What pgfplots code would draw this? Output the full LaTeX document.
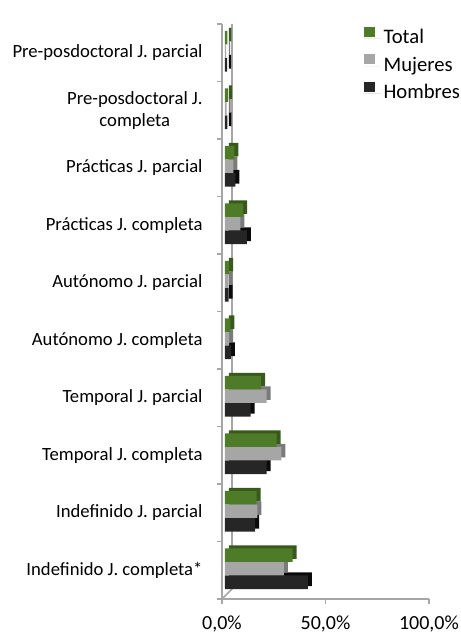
\documentclass[border=0pt]{standalone}
\usepackage{fontspec}
\setmainfont{Carlito}
\usepackage{pgfplots}
\pgfplotsset{compat=1.18}
\definecolor{cT}{HTML}{4E7B27}
\definecolor{cTd}{HTML}{38591C}
\definecolor{cM}{HTML}{A6A6A6}
\definecolor{cMd}{HTML}{7A7A7A}
\definecolor{cH}{HTML}{262626}
\definecolor{cHd}{HTML}{0A0A0A}
\definecolor{cAx}{HTML}{A6A6A6}
\newcommand\tl{\fontsize{15}{18}\selectfont}

% y = 0 is the bottom category
\pgfplotstableread{
y  hom  muj  tot
0  40.0 28.4 32.7
1  14.5 15.6 15.3
2  20.1 27.2 25.0
3  12.4 20.1 17.4
4  2.9  2.0  2.6
5  1.7  1.7  2.0
6  10.6 7.4  8.8
7  5.0  4.0  4.5
8  1.2  0.8  1.5
9  1.0  0.5  1.2
}\datatab

\begin{document}
\fontsize{14}{16.5}\selectfont
\begin{tikzpicture}
\path[use as bounding box] (-166.5pt,-28.5pt) rectangle (179.25pt,449.25pt);
\begin{axis}[
  at={(0,0)}, anchor=south west,
  scale only axis, width=155.25pt, height=431.25pt,
  xbar, bar width=10.2pt,
  xmin=0, xmax=100, ymin=-0.5, ymax=9.5,
  axis lines*=left,
  axis line style={cAx, line width=1.3pt},
  xtick={0,50,100},
  xticklabels={{\tl 0,0\%},{\tl 50,0\%},{\tl 100,0\%}},
  ytick={0,...,9},
  yticklabels={Indefinido J. completa*,Indefinido J. parcial,Temporal J. completa,Temporal J. parcial,Autónomo J. completa,Autónomo J. parcial,Prácticas J. completa,Prácticas J. parcial,{Pre-posdoctoral J.\\completa},Pre-posdoctoral J. parcial},
  minor ytick={-0.5,0.5,...,9.5},
  tick align=outside,
  major tick length=3.75pt, minor tick length=3.75pt,
  x tick style={cAx, line width=1pt},
  y tick style={draw=none},
  minor y tick style={draw=cAx, line width=1pt},
  x tick label style={font=\tl, yshift=-4pt},
  y tick label style={font=\fontsize{14}{16.5}\selectfont, align=center, xshift=-6pt},
  legend style={at={(0.686,0.997)}, anchor=north west, draw=none, fill=none,
    font=\fontsize{15.5}{17}\selectfont, row sep=2.25pt, inner sep=0pt,
    nodes={text height=11pt, text depth=3.5pt},
    legend cell align=left},
  legend image code/.code={\fill[#1] (0pt,1.25pt) rectangle (8pt,8.75pt); \path (0pt,0pt) -- (12.5pt,0pt);},
]
% back wall of the 3-D frame
\draw[cAx, line width=1.3pt] (rel axis cs:0,0) -- ([shift={(7.5pt,7.5pt)}]rel axis cs:0,0)
  -- ([shift={(7.5pt,7.5pt)}]rel axis cs:0,1) -- (rel axis cs:0,1);
% depth faces
\addplot[forget plot, fill=cHd, draw=none, bar shift=-9pt, xshift=5.25pt, yshift=2.25pt] table[x=hom, y=y] {\datatab};
\addplot[forget plot, fill=cMd, draw=none, bar shift=1.2pt, xshift=5.25pt, yshift=2.25pt] table[x=muj, y=y] {\datatab};
\addplot[forget plot, fill=cTd, draw=none, bar shift=11.4pt, xshift=5.25pt, yshift=2.25pt] table[x=tot, y=y] {\datatab};
% front faces
\addplot[forget plot, fill=cH, draw=none, bar shift=-9pt, xshift=2.25pt] table[x=hom, y=y] {\datatab};
\addplot[forget plot, fill=cM, draw=none, bar shift=1.2pt, xshift=2.25pt] table[x=muj, y=y] {\datatab};
\addplot[forget plot, fill=cT, draw=none, bar shift=11.4pt, xshift=2.25pt] table[x=tot, y=y] {\datatab};
\addlegendimage{fill=cT, draw=none}
\addlegendentry{Total}
\addlegendimage{fill=cM, draw=none}
\addlegendentry{Mujeres}
\addlegendimage{fill=cH, draw=none}
\addlegendentry{Hombres}
\end{axis}
\end{tikzpicture}
\end{document}
